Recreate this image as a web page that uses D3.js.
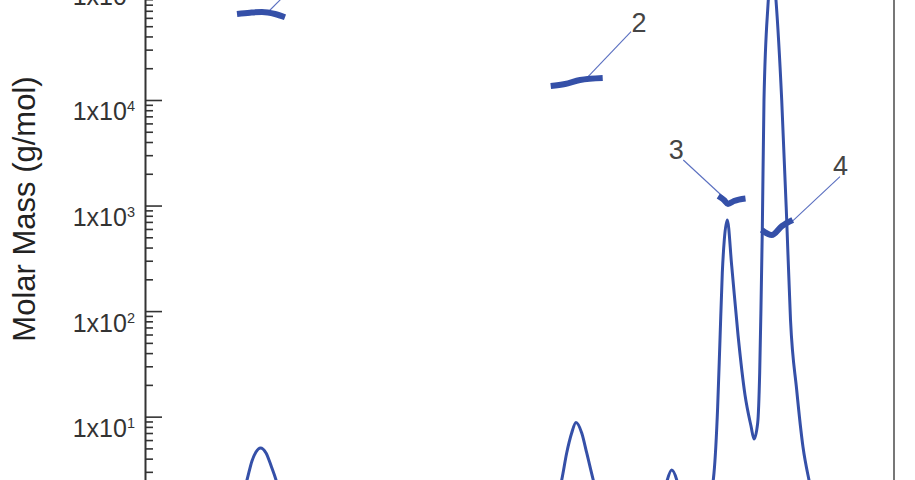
<!DOCTYPE html>
<html><head><meta charset="utf-8">
<script src="https://cdn.jsdelivr.net/npm/d3@7"></script>
<style>body{margin:0;background:#fff;overflow:hidden}</style>
</head><body>
<svg id="c" width="915" height="480"></svg>
<script>
// ---- data ----
// chromatogram trace (retention time, min ; detector signal, a.u.)
const chromTime = [8.000, 9.282, 9.522, 9.634, 9.714, 9.778, 9.850, 9.939, 10.027, 10.099, 10.195, 10.403,
  14.328, 14.569, 14.676, 14.756, 14.836, 14.905, 14.997, 15.077, 15.182, 15.290, 15.482,
  16.171, 16.299, 16.368, 16.438, 16.519, 16.587, 16.764, 17.020, 17.116, 17.175, 17.212, 17.249,
  17.281, 17.329, 17.400, 17.501, 17.613, 17.709, 17.757, 17.816, 17.848, 17.869, 17.890, 17.917,
  17.986, 18.037, 18.109, 18.201, 18.281, 18.342, 18.441, 18.542, 18.638, 18.750, 18.975, 20.000];
const chromSignal = [0, 0, 4.31, 8.62, 11.90, 13.45, 14.14, 13.28, 10.86, 8.62, 4.31, 0,
  0, 4.31, 8.62, 13.28, 16.72, 18.53, 16.72, 13.28, 8.62, 4.31, 0,
  0, 5.17, 8.62, 10.34, 8.62, 5.17, 2.59, 4.31, 9.83, 21.26, 32.76, 44.31,
  50.0, 53.45, 45.52, 33.62, 23.28, 17.93, 15.69, 18.45, 27.07, 38.45, 51.72, 74.14,
  91.38, 99.14, 91.38, 74.14, 53.45, 36.21, 24.14, 14.31, 8.62, 3.45, 0, 0];

// molar mass across each peak (time, g/mol)
const peakLabels = ["1", "2", "3", "4"];
const massTimes = [
  [9.474, 9.682, 9.874, 10.083, 10.243],
  [14.500, 14.729, 14.969, 15.333],
  [17.185, 17.276, 17.340, 17.437, 17.621],
  [17.880, 18.041, 18.206, 18.377]
];
const massValues = [
  [65300, 67200, 68200, 65300, 60800],
  [13570, 14180, 15470, 16160],
  [1232, 1129, 1035, 1105, 1167],
  [587, 526, 640, 730]
];
// point on each mass segment where the label's leader starts
const labelTime = [9.939, 15.061, 17.265, 18.361];
const labelMass = [65270, 15800, 1205, 699];

// y axis ticks
const majorTicks = [1, 10, 100, 1000, 10000, 100000];
const majorExp = ["0", "1", "2", "3", "4", "5"];
const axisTitle = "Molar Mass (g/mol)";

// ---- layout / style ----
const blue = "#3550a8";
const ink = "#333";
// leader end offsets (px) and text offsets from leader end
const leader = [[45, -45], [45.3, -47.3], [-40, -37], [48.3, -45.3]];
const textOff = [[7, -1], [8, 0.6], [-7, -0.7], [0.5, -1.7]];

const svg = d3.select("#c");
const x = d3.scaleLinear().domain([8, 20]).range([145, 894]);
const y = d3.scaleLog().domain([1, 100000]).range([522.2, -5.56]);
const sig = d3.scaleLinear().domain([0, 100]).range([530, -50]);

// right frame
svg.append("line").attr("x1", 894).attr("x2", 894).attr("y1", -20).attr("y2", 500)
  .attr("stroke", "#555").attr("stroke-width", 1.6);

// minor ticks
const minors = [];
for (let e = 0; e < 5; e++) for (let m = 2; m <= 9; m++) minors.push(m * Math.pow(10, e));
const gMinor = svg.append("g").attr("transform", "translate(145,0)")
  .call(d3.axisRight(y).tickValues(minors).tickSize(8).tickSizeOuter(0).tickFormat(""));
const gMajor = svg.append("g").attr("transform", "translate(145,0)")
  .call(d3.axisRight(y).tickValues(majorTicks).tickSize(17).tickSizeOuter(0).tickFormat(""));
[gMinor, gMajor].forEach(g => {
  g.selectAll("line").attr("stroke", ink).attr("stroke-width", 1.6);
  g.select(".domain").attr("stroke", ink).attr("stroke-width", 2);
});
gMajor.select(".domain").remove();

// tick labels 1x10^n (the top one sits higher, at the frame edge)
majorTicks.forEach((v, i) => {
  const top = i === majorTicks.length - 1;
  const t = svg.append("text").attr("x", 135).attr("y", y(v) + (top ? 10.5 : 20.5))
    .attr("text-anchor", "end").attr("fill", ink)
    .attr("font-family", "Liberation Sans, Arial, sans-serif").attr("font-size", 25);
  t.append("tspan").text("1x10");
  t.append("tspan").attr("font-size", 14.5).attr("dy", -9).text(majorExp[i]);
});

// axis title
svg.append("text").attr("transform", "translate(35,209) rotate(-90)")
  .attr("text-anchor", "middle").attr("fill", "#222")
  .attr("font-family", "Liberation Sans, Arial, sans-serif").attr("font-size", 31)
  .text(axisTitle);

// chromatogram
const chromData = chromTime.map((t, i) => [t, chromSignal[i]]);
svg.append("path").datum(chromData)
  .attr("fill", "none").attr("stroke", blue).attr("stroke-width", 3)
  .attr("stroke-linejoin", "round")
  .attr("d", d3.line().x(d => x(d[0])).y(d => sig(d[1])).curve(d3.curveMonotoneX));

// leader lines + labels
peakLabels.forEach((lab, i) => {
  const x0 = x(labelTime[i]), y0 = y(labelMass[i]);
  const x1 = x0 + leader[i][0], y1 = y0 + leader[i][1];
  svg.append("line").attr("x1", x0).attr("y1", y0).attr("x2", x1).attr("y2", y1)
    .attr("stroke", "#5a6fc0").attr("stroke-width", 1.1);
  svg.append("text").attr("x", x1 + textOff[i][0]).attr("y", y1 + textOff[i][1])
    .attr("text-anchor", "middle").attr("fill", "#444")
    .attr("font-family", "Liberation Sans, Arial, sans-serif").attr("font-size", 27)
    .text(lab);
});

// molar mass segments
massTimes.forEach((ts, k) => {
  const data = ts.map((t, i) => [t, massValues[k][i]]);
  svg.append("path").datum(data)
    .attr("fill", "none").attr("stroke", blue).attr("stroke-width", 6)
    .attr("stroke-linejoin", "round")
    .attr("d", d3.line().x(d => x(d[0])).y(d => y(d[1])).curve(d3.curveMonotoneX));
});
</script>
</body></html>
